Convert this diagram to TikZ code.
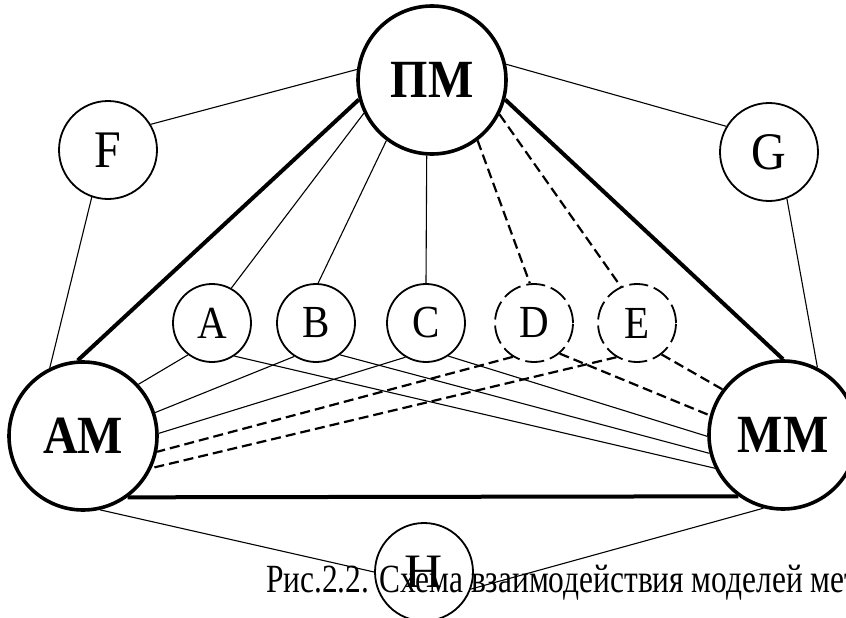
\documentclass[tikz,border=0pt]{standalone}
\usepackage{graphicx}
\usepackage{fontspec}
\setmainfont{Liberation Serif}
\begin{document}
\begin{tikzpicture}[x=1pt,y=-1pt,
  major/.style={circle,draw,line width=3.6pt,minimum size=148pt,inner sep=0pt,
    font=\fontsize{48}{48}\selectfont\bfseries},
  outer/.style={circle,draw,line width=1.8pt,minimum size=98pt,inner sep=0pt,
    font=\fontsize{48}{48}\selectfont},
  minor/.style={circle,draw,line width=1.8pt,minimum size=78pt,inner sep=0pt,
    font=\fontsize{41}{41}\selectfont},
  ring/.style={dash pattern=on 19pt off 6pt},
  link/.style={line width=1.1pt},
  heavy/.style={line width=4pt},
  dashlink/.style={line width=2.2pt,dash pattern=on 10pt off 5pt}]
\useasboundingbox (0,0) rectangle (846,618);
\clip (0,0) rectangle (846,618);

% models
\node[major] (PM) at (432,80)  {\scalebox{1}[1.12]{ПМ}};
\node[major] (AM) at (83,436)  {\scalebox{1}[1.12]{АМ}};
\node[major] (MM) at (783,435) {\scalebox{1}[1.12]{ММ}};

% outer factors
\node[outer] (F) at (108,150) {\scalebox{1}[1.1]{F}};
\node[outer] (G) at (769,152) {\scalebox{1}[1.1]{G}};
\node[outer] (H) at (424,572) {\scalebox{1.1}[1]{H}};

% intermediate elements
\node[minor] (A) at (212,323) {\scalebox{1}[1.12]{A}};
\node[minor] (B) at (316,323) {\scalebox{1}[1.12]{B}};
\node[minor] (C) at (426,323) {\scalebox{1}[1.12]{C}};
\node[minor,ring] (D) at (534,323) {\scalebox{1}[1.12]{D}};
\node[minor,ring] (E) at (637,323) {\scalebox{1}[1.12]{E}};

% main triangle
\draw[heavy] (PM.195) -- (AM.94);
\draw[heavy] (PM.-15) -- (MM.90);
\draw[heavy] (AM.-54) -- (MM.-126);

% outer links
\draw[link] (F.31) -- (PM.172);
\draw[link] (F.-109) -- (AM.116);
\draw[link] (G.149) -- (PM.12);
\draw[link] (G.-69) -- (MM.63);
\draw[link] (AM.-77) -- (H.180);
\draw[link] (MM.255) -- (H.-20);

% links from the top model
\draw[link] (PM.206) -- (A.61);
\draw[link] (PM.233) -- (B.87);
\draw[link] (PM.266) -- (C.90);
\draw[dashlink] (PM.307) -- (D.96);
\draw[dashlink] (PM.333) -- (E.114);

% links to the left model
\draw[link] (A.-127) -- (AM.43);
\draw[link] (B.-123) -- (AM.18);
\draw[link] (C.-121) -- (AM.2);
\draw[dashlink] (D.-122) -- (AM.-12);
\draw[dashlink] (E.-121) -- (AM.-25);

% links to the right model
\draw[link] (A.-56) -- (MM.206);
\draw[link] (B.-53) -- (MM.194);
\draw[link] (C.-56) -- (MM.181);
\draw[dashlink] (D.-50) -- (MM.165);
\draw[dashlink] (E.-52) -- (MM.143);

% caption
\node[anchor=base west,inner sep=0pt,font=\fontsize{40}{40}\selectfont] (cap) at (266,592)
  {\scalebox{0.785}[1]{Рис.2.2. Схема взаимодействия моделей мет}};
\end{tikzpicture}
\end{document}
